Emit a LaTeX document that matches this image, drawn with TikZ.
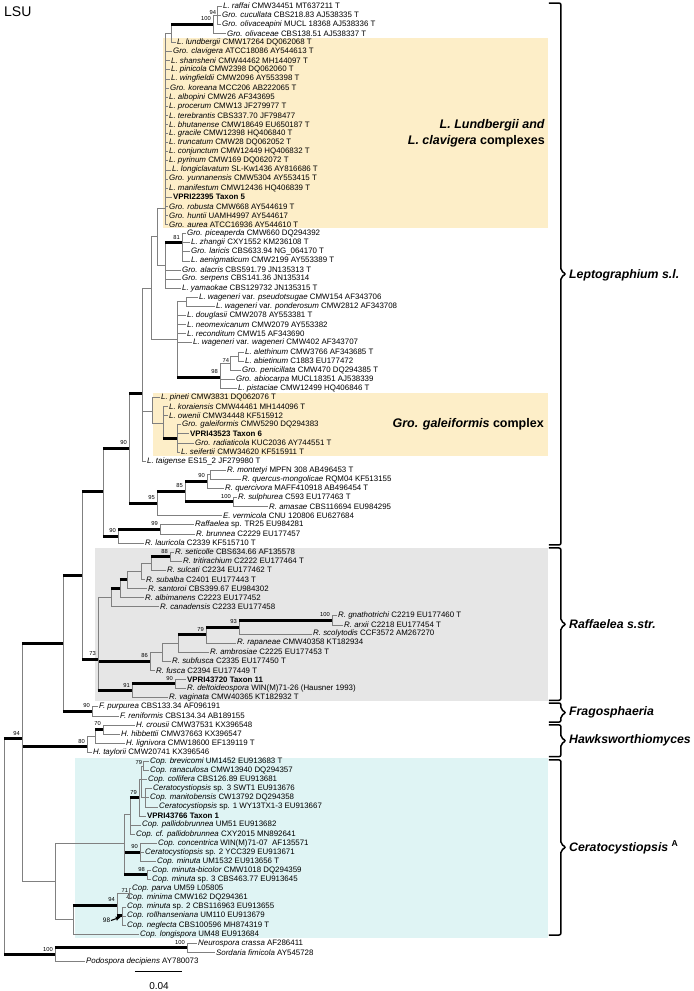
\documentclass[tikz,border=0pt]{standalone}
\usepackage{fontspec}
\setmainfont{Liberation Sans}
\usetikzlibrary{arrows.meta}

\definecolor{lepbox}{RGB}{253,238,200}
\definecolor{rafbox}{RGB}{230,230,230}
\definecolor{copbox}{RGB}{223,244,244}

\newcommand\tx[1]{\textit{#1}}
% branch helpers: thin elbow, thin elbow with support, thick with support
\newcommand\br[2]{\draw[br] (#1) |- (#2);}
\newcommand\brl[3]{\draw[br] (#1) |- (#2) node[bs,name=b#2] {#3};}
\newcommand\tk[3]{\draw[br] (#1) |- (#2); \draw[tk] (#1 |- #2) -- (#2) node[bs,yshift=1.3pt,name=b#2] {#3};}

\begin{document}
\begin{tikzpicture}[x=1pt,y=-9.1pt,
  br/.style={draw=black!50,line width=0.5pt},
  tk/.style={line width=3pt},
  bs/.style={anchor=south east,inner sep=0.6pt,font=\fontsize{5.8}{6}\selectfont},
  leaf/.style={anchor=west,inner sep=1pt,font=\fontsize{7.9}{9}\selectfont},
  brc/.style={line width=1.5pt,rounded corners=2pt},
  grp/.style={anchor=west,inner sep=0pt,font=\fontsize{12.3}{14}\selectfont\bfseries\itshape},
  cpx/.style={anchor=east,align=right,inner sep=0pt,font=\fontsize{12.5}{16}\selectfont\bfseries}]
\useasboundingbox (0,0.34) rectangle (694,109.25);

% shaded clades
\fill[lepbox] (163,4.5) rectangle (548,25.45);
\fill[lepbox] (153,43.5) rectangle (548,50.45);
\fill[rafbox] (95,60.55) rectangle (548,77.4);
\fill[copbox] (75,83.6) rectangle (548,103.45);

\node[anchor=west,inner sep=0pt,font=\fontsize{14}{16}\selectfont] (lsu) at (4,1.66) {LSU};

% taxa
\foreach \n/\x/\txt in {
 1/222/{\tx{L. raffai} CMW34451 MT637211 T},
 2/221/{\tx{Gro. cucullata} CBS218.83 AJ538335 T},
 3/221/{\tx{Gro. olivaceapini} MUCL 18368 AJ538336 T},
 4/226/{\tx{Gro. olivaceae} CBS138.51 AJ538337 T},
 5/176/{\tx{L. lundbergii} CMW17264 DQ062068 T},
 6/172/{\tx{Gro. clavigera} ATCC18086 AY544613 T},
 7/170/{\tx{L. shansheni} CMW44462 MH144097 T},
 8/170/{\tx{L. pinicola} CMW2398 DQ062060 T},
 9/170/{\tx{L. wingfieldii} CMW2096 AY553398 T},
 10/169/{\tx{Gro. koreana} MCC206 AB222065 T},
 11/168/{\tx{L. albopini} CMW26 AF343695},
 12/168/{\tx{L. procerum} CMW13 JF279977 T},
 13/168/{\tx{L. terebrantis} CBS337.70 JF798477},
 14/168/{\tx{L. bhutanense} CMW18649 EU650187 T},
 15/168/{\tx{L. gracile} CMW12398 HQ406840 T},
 16/168/{\tx{L. truncatum} CMW28 DQ062052 T},
 17/168/{\tx{L. conjunctum} CMW12449 HQ406832 T},
 18/168/{\tx{L. pyrinum} CMW169 DQ062072 T},
 19/171/{\tx{L. longiclavatum} SL-Kw1436 AY816686 T},
 20/168/{\tx{Gro. yunnanensis} CMW5304 AY553415 T},
 21/168/{\tx{L. manifestum} CMW12436 HQ406839 T},
 22/172/{\textbf{VPRI22395 Taxon 5}},
 23/168/{\tx{Gro. robusta} CMW668 AY544619 T},
 24/168/{\tx{Gro. huntii} UAMH4997 AY544617},
 25/168/{\tx{Gro. aurea} ATCC16936 AY544610 T},
 26/186/{\tx{Gro. piceaperda} CMW660 DQ294392},
 27/190/{\tx{L. zhangii} CXY1552 KM236108 T},
 28/190/{\tx{Gro. laricis} CBS633.94 NG\_064170 T},
 29/190/{\tx{L. aenigmaticum} CMW2199 AY553389 T},
 30/181/{\tx{Gro. alacris} CBS591.79 JN135313 T},
 31/181/{\tx{Gro. serpens} CBS141.36 JN135314},
 32/181/{\tx{L. yamaokae} CBS129732 JN135315 T},
 33/198/{\tx{L. wageneri} var. \tx{pseudotsugae} CMW154 AF343706},
 34/215/{\tx{L. wageneri} var. \tx{ponderosum} CMW2812 AF343708},
 35/186/{\tx{L. douglasii} CMW2078 AY553381 T},
 36/186/{\tx{L. neomexicanum} CMW2079 AY553382},
 37/186/{\tx{L. reconditum} CMW15 AF343690},
 38/192/{\tx{L. wageneri} var. \tx{wageneri} CMW402 AF343707},
 39/244/{\tx{L. alethinum} CMW3766 AF343685 T},
 40/244/{\tx{L. abietinum} C1883 EU177472},
 41/241/{\tx{Gro. penicillata} CMW470 DQ294385 T},
 42/235/{\tx{Gro. abiocarpa} MUCL18351 AJ538339},
 43/237/{\tx{L. pistaciae} CMW12499 HQ406846 T},
 44/160/{\tx{L. pineti} CMW3831 DQ062076 T},
 45/168/{\tx{L. koraiensis} CMW44461 MH144096 T},
 46/168/{\tx{L. owenii} CMW34448 KF515912},
 47/181/{\tx{Gro. galeiformis} CMW5290 DQ294383},
 48/189/{\textbf{VPRI43523 Taxon 6}},
 49/194/{\tx{Gro. radiaticola} KUC2036 AY744551 T},
 50/180/{\tx{L. seifertii} CMW34620 KF515911 T},
 51/146/{\tx{L. taigense} ES15\_2 JF279980 T},
 52/226/{\tx{R. montetyi} MPFN 308 AB496453 T},
 53/241/{\tx{R. quercus-mongolicae} RQM04 KF513155},
 54/224/{\tx{R. quercivora} MAFF410918 AB496454 T},
 55/237/{\tx{R. sulphurea} C593 EU177463 T},
 56/268/{\tx{R. amasae} CBS116694 EU984295},
 57/222/{\tx{E. vermicola} CNU 120806 EU627684},
 58/194/{\tx{Raffaelea} sp. TR25 EU984281},
 59/195/{\tx{R. brunnea} C2229 EU177457},
 60/144/{\tx{R. lauricola} C2339 KF515710 T},
 61/174/{\tx{R. seticolle} CBS634.66 AF135578},
 62/182/{\tx{R. tritirachium} C2222 EU177464 T},
 63/166/{\tx{R. sulcati} C2234 EU177462 T},
 64/145/{\tx{R. subalba} C2401 EU177443 T},
 65/147/{\tx{R. santoroi} CBS399.67 EU984302},
 66/144/{\tx{R. albimanens} C2223 EU177452},
 67/159/{\tx{R. canadensis} C2233 EU177458},
 68/337/{\tx{R. gnathotrichi} C2219 EU177460 T},
 69/343/{\tx{R. arxii} C2218 EU177454 T},
 70/312/{\tx{R. scolytodis} CCF3572 AM267270},
 71/236/{\tx{R. rapaneae} CMW40358 KT182934},
 72/209/{\tx{R. ambrosiae} C2225 EU177453 T},
 73/171/{\tx{R. subfusca} C2335 EU177450 T},
 74/155/{\tx{R. fusca} C2394 EU177449 T},
 75/186/{\textbf{VPRI43720 Taxon 11}},
 76/186/{\tx{R. deltoideospora} WIN(M)71-26 (Hausner 1993)},
 77/168/{\tx{R. vaginata} CMW40365 KT182932 T},
 78/98/{\tx{F. purpurea} CBS133.34 AF096191},
 79/119/{\tx{F. reniformis} CBS134.34 AB189155},
 80/135/{\tx{H. crousii} CMW37531 KX396548},
 81/120/{\tx{H. hibbettii} CMW37663 KX396547},
 82/125/{\tx{H. lignivora} CMW18600 EF139119 T},
 83/92/{\tx{H. taylorii} CMW20741 KX396546},
 84/149/{\tx{Cop. brevicomi} UM1452 EU913683 T},
 85/149/{\tx{Cop. ranaculosa} CMW13940 DQ294357},
 86/147/{\tx{Cop. collifera} CBS126.89 EU913681},
 87/152/{\tx{Ceratocystiopsis} sp. 3 SWT1 EU913676},
 88/149/{\tx{Cop. manitobensis} CW13792 DQ294358},
 89/158/{\tx{Ceratocystiopsis} sp. 1 WY13TX1-3 EU913667},
 90/146/{\textbf{VPRI43766 Taxon 1}},
 91/141/{\tx{Cop. pallidobrunnea} UM51 EU913682},
 92/135/{\tx{Cop. cf. pallidobrunnea} CXY2015 MN892641},
 93/157/{\tx{Cop. concentrica} WIN(M)71-07\ \ AF135571},
 94/144/{\tx{Ceratocystiopsis} sp. 2 YCC329 EU913671},
 95/156/{\tx{Cop. minuta} UM1532 EU913656 T},
 96/151/{\tx{Cop. minuta-bicolor} CMW1018 DQ294359},
 97/151/{\tx{Cop. minuta} sp. 3 CBS463.77 EU913645},
 98/131/{\tx{Cop. parva} UM59 L05805},
 99/126/{\tx{Cop. minima} CMW162 DQ294361},
 100/126/{\tx{Cop. minuta} sp. 2 CBS116963 EU913655},
 101/126/{\tx{Cop. rollhanseniana} UM110 EU913679},
 102/126/{\tx{Cop. neglecta} CBS100596 MH874319 T},
 103/139/{\tx{Cop. longispora} UM48 EU913684},
 104/197/{\tx{Neurospora crassa} AF286411},
 105/215/{\tx{Sordaria fimicola} AY545728},
 106/85/{\tx{Podospora decipiens} AY780073}}
 \node[leaf] (t\n) at (\x,\n) {\txt};

% internal nodes: Leptographium s.l.
\coordinate (n94) at (217,2);
\coordinate (n100a) at (213,3);
\coordinate (nB) at (171,4);
\coordinate (nA) at (165,23.2);
\coordinate (n81) at (182,27);
\coordinate (nE) at (165,29.5);
\coordinate (nD) at (157,26.35);
\coordinate (nPr) at (186,33.5);
\coordinate (nAb) at (238,39.5);
\coordinate (n74) at (230,40.25);
\coordinate (n98) at (220,41.8);
\coordinate (nW) at (177,37.65);
\coordinate (nU) at (151,32);
\coordinate (nG2) at (177,48.5);
\coordinate (nG1) at (163,46.8);
\coordinate (nG0) at (152,45.5);
\coordinate (nL1) at (142,43.6);
\coordinate (nMQ) at (210,52.5);
\coordinate (n90c) at (207,53.25);
\coordinate (n100b) at (233,55.5);
\coordinate (n85) at (185,54.3);
\coordinate (n95) at (157,55.65);
\coordinate (nL0) at (129,49.6);
\coordinate (n99) at (160,58.5);
\coordinate (n90b) at (118,59.25);
\coordinate (nR) at (103,54.4);
% Raffaelea s.str.
\coordinate (n88) at (170,61.5);
\coordinate (nS1) at (151,62.25);
\coordinate (nS2) at (141,63.1);
\coordinate (nS3) at (127,64.05);
\coordinate (nS4) at (120,65);
\coordinate (nS5) at (111,66);
\coordinate (n100c) at (332,68.5);
\coordinate (n93) at (239,69.25);
\coordinate (n79) at (206,70.1);
\coordinate (nAm) at (178,71.05);
\coordinate (nSub) at (162,72.03);
\coordinate (n86) at (150,73);
\coordinate (n90d) at (175,75.5);
\coordinate (n91) at (132,76.25);
\coordinate (n73) at (98,72.8);
\coordinate (nT) at (82,63.6);
% Fragosphaeria, Hawksworthiomyces
\coordinate (n90e) at (92,78.5);
\coordinate (nQ) at (63,71.05);
\coordinate (n70) at (103,80.5);
\coordinate (nH1) at (95,81.25);
\coordinate (n80) at (87,82.4);
% Ceratocystiopsis
\coordinate (nC1) at (143,84.5);
\coordinate (nC3) at (145,88);
\coordinate (nC2) at (141,86);
\coordinate (n79b) at (139,88);
\coordinate (nC5) at (130,89.8);
\coordinate (n90f) at (140,94);
\coordinate (n98b) at (147,96.5);
\coordinate (nC6) at (124,93);
\coordinate (n71) at (129,98.5);
\coordinate (n98c) at (122,101);
\coordinate (n94b) at (117,99.8);
\coordinate (nC7) at (73,101.4);
\coordinate (nC8) at (55,97.2);
% outgroup and root
\coordinate (nNS) at (187,104.5);
\coordinate (nOut) at (55,105.25);
\coordinate (nK) at (22,81.5);
\coordinate (root) at (4,93.4);

% branches
\foreach \c in {1,2,3} {\br{n94}{t\c.west}}
\brl{n100a}{n94}{94}
\br{n100a}{t4.west}
\tk{nB}{n100a}{100}
\br{nB}{t5.west}
\br{nA}{nB}
\foreach \c in {6,...,25} {\br{nA}{t\c.west}}
\foreach \c in {26,...,29} {\br{n81}{t\c.west}}
\tk{nE}{n81}{81}
\foreach \c in {30,31,32} {\br{nE}{t\c.west}}
\br{nD}{nA}
\br{nD}{nE}
\br{nPr}{t33.west}
\br{nPr}{t34.west}
\br{nAb}{t39.west}
\br{nAb}{t40.west}
\br{n74}{nAb}
\br{n74}{t41.west}
\brl{n98}{n74}{74}
\br{n98}{t42.west}
\br{n98}{t43.west}
\br{nW}{nPr}
\foreach \c in {35,...,38} {\br{nW}{t\c.west}}
\tk{nW}{n98}{98}
\br{nU}{nD}
\br{nU}{nW}
\foreach \c in {47,...,50} {\br{nG2}{t\c.west}}
\br{nG1}{t45.west}
\br{nG1}{t46.west}
\tk{nG1}{nG2}{}
\br{nG0}{t44.west}
\br{nG0}{nG1}
\br{nL1}{nU}
\br{nL1}{nG0}
\br{nL1}{t51.west}
\br{nMQ}{t52.west}
\br{nMQ}{t53.west}
\br{n90c}{nMQ}
\br{n90c}{t54.west}
\br{n100b}{t55.west}
\br{n100b}{t56.west}
\tk{n85}{n90c}{90}
\tk{n85}{n100b}{100}
\tk{n95}{n85}{85}
\br{n95}{t57.west}
\tk{nL0}{nL1}{}
\tk{nL0}{n95}{95}
\br{n99}{t58.west}
\br{n99}{t59.west}
\tk{n90b}{n99}{99}
\br{n90b}{t60.west}
\tk{nR}{nL0}{90}
\tk{nR}{n90b}{90}
\tk{nT}{nR}{}
% Raffaelea s.str.
\br{n88}{t61.west}
\br{n88}{t62.west}
\tk{nS1}{n88}{88}
\br{nS1}{t63.west}
\br{nS2}{nS1}
\br{nS2}{t64.west}
\br{nS3}{nS2}
\br{nS3}{t65.west}
\tk{nS4}{nS3}{}
\br{nS4}{t66.west}
\tk{nS5}{nS4}{}
\br{nS5}{t67.west}
\br{n100c}{t68.west}
\br{n100c}{t69.west}
\tk{n93}{n100c}{100}
\br{n93}{t70.west}
\tk{n79}{n93}{93}
\br{n79}{t71.west}
\tk{nAm}{n79}{79}
\br{nAm}{t72.west}
\br{nSub}{nAm}
\br{nSub}{t73.west}
\br{n86}{nSub}
\br{n86}{t74.west}
\br{n90d}{t75.west}
\br{n90d}{t76.west}
\tk{n91}{n90d}{90}
\br{n91}{t77.west}
\br{n73}{nS5}
\tk{n73}{n86}{86}
\tk{n73}{n91}{91}
\tk{nT}{n73}{73}
% Fragosphaeria, Hawksworthiomyces
\br{n90e}{t78.west}
\br{n90e}{t79.west}
\tk{nQ}{nT}{}
\tk{nQ}{n90e}{90}
\br{n70}{t80.west}
\br{n70}{t81.west}
\tk{nH1}{n70}{70}
\br{nH1}{t82.west}
\br{n80}{nH1}
\br{n80}{t83.west}
% Ceratocystiopsis
\br{nC1}{t84.west}
\br{nC1}{t85.west}
\brl{nC2}{nC1}{79}
\br{nC2}{t86.west}
\foreach \c in {87,88,89} {\br{nC3}{t\c.west}}
\br{nC2}{nC3}
\br{n79b}{nC2}
\br{n79b}{t90.west}
\tk{nC5}{n79b}{79}
\br{nC5}{t91.west}
\br{nC5}{t92.west}
\foreach \c in {93,94,95} {\br{n90f}{t\c.west}}
\br{n98b}{t96.west}
\br{n98b}{t97.west}
\br{nC6}{nC5}
\tk{nC6}{n90f}{90}
\tk{nC6}{n98b}{98}
\br{n71}{t98.west}
\br{n71}{t99.west}
\foreach \c in {100,101,102} {\br{n98c}{t\c.west}}
\brl{n94b}{n71}{71}
\tk{n94b}{n98c}{}
\tk{nC7}{n94b}{94}
\br{nC7}{t103.west}
\br{nC8}{nC6}
\br{nC8}{nC7}
% outgroup and root
\br{nNS}{t104.west}
\br{nNS}{t105.west}
\tk{nOut}{nNS}{100}
\br{nOut}{t106.west}
\tk{nK}{nQ}{}
\tk{nK}{n80}{80}
\br{nK}{nC8}
\tk{root}{nK}{94}
\tk{root}{nOut}{100}

\node[bs,anchor=east,font=\fontsize{6.5}{7}\selectfont] (b98arr) at (111,101.5) {98};
\draw[-{Latex[length=1.8mm,width=1.6mm]},line width=1.1pt] (b98arr.east) -- ([xshift=-1pt,yshift=-1pt]n98c);

% clade labels inside the boxes
\node[cpx] (lab-lund) at (545,14.96) {\textit{L. Lundbergii and}\\\textit{L. clavigera} complexes};
\node[cpx] (lab-gal) at (544,46.93) {\textit{Gro. galeiformis} complex};

% right-hand braces
\draw[brc] (549,0.67) -| (561,30.1) -- (566,30.45) -- (561,30.8) |- (549,60.23);
\node[grp] (lab-lep) at (569,30.6) {Leptographium s.l.};
\draw[brc] (549,60.56) -| (561,68.6) -- (566,68.95) -- (561,69.3) |- (549,77.3);
\node[grp] (lab-raf) at (569,68.95) {Raffaelea s.str.};
\draw[brc] (549,77.6) -| (561,78.3) -- (566,78.65) -- (561,79) |- (549,79.7);
\node[grp] (lab-fra) at (569,78.65) {Fragosphaeria};
\draw[brc] (549,80) -| (561,81.4) -- (566,81.75) -- (561,82.1) |- (549,83.5);
\node[grp] (lab-haw) at (569,81.75) {Hawksworthiomyces};
\draw[brc] (549,83.85) -| (561,93.1) -- (566,93.45) -- (561,93.8) |- (549,103.1);
\node[grp] (lab-cop) at (569,93.45) {Ceratocystiopsis \textsuperscript{\upshape A}};

% scale bar
\coordinate (sb0) at (135,107.15);
\coordinate (sb1) at (182,107.15);
\draw[line width=0.9pt] (sb0) -- (sb1);
\node[inner sep=0pt,font=\fontsize{10}{12}\selectfont] (sbl) at (159,108.7) {0.04};
\end{tikzpicture}
\end{document}
